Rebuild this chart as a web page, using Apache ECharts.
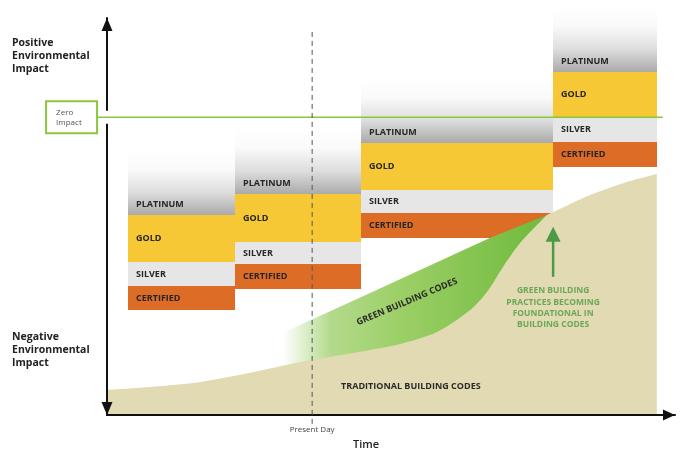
<!DOCTYPE html>
<html>
<head>
<meta charset="utf-8">
<script src="https://cdn.jsdelivr.net/npm/echarts@6/dist/echarts.min.js"></script>
<style>
  html, body { margin: 0; padding: 0; background: #fff; }
  #chart { width: 690px; height: 460px; }
</style>
</head>
<body>
<div id="chart"></div>
<script>
  // time runs 0..103 along x, environmental impact 0..100 along y (arbitrary units)
  const tiers = ['CERTIFIED', 'SILVER', 'GOLD', 'PLATINUM']
  const stepStart = [3.8, 23.2, 46.1, 80.9]
  const stepEnd = [23.2, 46.1, 80.9, 99.7]
  const certifiedLevel = [26.4, 31.7, 44.6, 62.5]
  const silverLevel = [32.5, 38.0, 50.9, 68.8]
  const goldLevel = [38.5, 43.6, 56.7, 75.1]
  const platinumLevel = [50.4, 55.7, 68.5, 86.4]
  const fadeTop = [66.8, 72.3, 84.9, 103]

  // traditional building codes (beige area)
  const traditionalTime = [0, 16.9, 37.2, 47.7, 53.7, 59.8, 65.8, 68.9, 71.8, 74.9, 78.0, 79.8, 80.9, 87.6, 93.6, 99.7]
  const traditionalImpact = [6.3, 8.3, 13.9, 16.4, 18.1, 20.9, 26.4, 31.0, 37.3, 43.3, 47.9, 50.4, 51.1, 55.4, 58.4, 60.7]
  // upper edge of the green building codes band
  const greenTime = [31.9, 47.7, 69.4, 79.8]
  const greenImpact = [20.7, 30.7, 44.6, 50.4]

  const zeroImpact = 75
  const presentDay = 37.2
  const impactTitles = ['Positive\nEnvironmental\nImpact', 'Negative\nEnvironmental\nImpact']
  const impactTitleAt = [90.3, 16.4]

  const tierColors = [
    '#dd6c27',
    '#e6e6e6',
    '#f7c836',
    new echarts.graphic.LinearGradient(0, 0, 0, 1, [
      { offset: 0, color: '#ffffff' },
      { offset: 0.3, color: '#fafafa' },
      { offset: 0.65, color: '#dedede' },
      { offset: 1, color: '#aaaaaa' }
    ])
  ]
  const labelFont = 'bold 9px "Open Sans"'

  const barData = []
  for (let s = 0; s < stepStart.length; s++) {
    const levels = [certifiedLevel[s], silverLevel[s], goldLevel[s], platinumLevel[s], fadeTop[s]]
    for (let k = 0; k < tiers.length; k++) {
      barData.push([stepStart[s], stepEnd[s], levels[k], levels[k + 1], k])
    }
  }

  function renderTier (params, api) {
    const p0 = api.coord([api.value(0), api.value(3)])
    const p1 = api.coord([api.value(1), api.value(2)])
    const k = api.value(4)
    const x0 = Math.round(p0[0]); const x1 = Math.round(p1[0])
    const y0 = Math.round(p0[1]); const y1 = Math.round(p1[1])
    return {
      type: 'group',
      children: [
        { type: 'rect', shape: { x: x0, y: y0, width: x1 - x0, height: y1 - y0 }, style: { fill: tierColors[k] } },
        {
          type: 'text',
          style: {
            text: tiers[k], x: x0 + 8, y: k === 3 ? y1 - 11 : (y0 + y1) / 2,
            verticalAlign: 'middle', fill: '#262626', font: labelFont
          }
        }
      ]
    }
  }

  function renderGreen (params, api) {
    const pts = greenTime.map((t, i) => api.coord([t, greenImpact[i]]))
    pts.push(api.coord([greenTime[greenTime.length - 1], 0]))
    pts.push(api.coord([greenTime[0], 0]))
    return {
      type: 'polygon',
      shape: { points: pts },
      style: {
        fill: new echarts.graphic.LinearGradient(0, 0, 1, 0, [
          { offset: 0, color: 'rgba(180,220,140,0)' },
          { offset: 0.18, color: '#b3da8c' },
          { offset: 0.45, color: '#9ccf66' },
          { offset: 1, color: '#6eba3c' }
        ])
      }
    }
  }

  function renderNotes (params, api) {
    const axisPt = api.coord([0, zeroImpact])
    const lineStart = api.coord([-1.8, zeroImpact])
    const lineEnd = api.coord([100.8, zeroImpact])
    const dashTop = api.coord([presentDay, 96.5])
    const dashBottom = api.coord([presentDay, -2.5])
    const arrowTip = api.coord([80.9, 47.4])
    const arrowBase = api.coord([80.9, 34.8])
    const trad = api.coord([55.1, 7.1])
    const greenText = api.coord([54.4, 28.5])
    const note = api.coord([80.9, 27.0])
    return {
      type: 'group',
      children: [
        { type: 'rect', shape: { x: axisPt[0] - 4, y: axisPt[1] - 6.5, width: 8, height: 13 }, style: { fill: '#fff' } },
        { type: 'line', shape: { x1: lineStart[0], y1: lineStart[1], x2: lineEnd[0], y2: lineEnd[1] }, style: { stroke: '#8cc63f', lineWidth: 1.5 } },
        { type: 'rect', shape: { x: lineStart[0] - 51, y: lineStart[1] - 16, width: 51, height: 32 }, style: { fill: '#fff', stroke: '#8cc63f', lineWidth: 2 } },
        { type: 'text', style: { text: 'Zero\nImpact', x: lineStart[0] - 41, y: lineStart[1] + 0.5, verticalAlign: 'middle', lineHeight: 10.5, fill: '#555', font: '8px "Open Sans"' } },
        { type: 'line', shape: { x1: dashTop[0], y1: dashTop[1], x2: dashBottom[0], y2: dashBottom[1] }, style: { stroke: '#555', lineWidth: 1, lineDash: [5, 4] } },
        { type: 'line', shape: { x1: arrowBase[0], y1: arrowBase[1], x2: arrowTip[0], y2: arrowTip[1] + 12 }, style: { stroke: '#4c9a46', lineWidth: 2.5 } },
        { type: 'polygon', shape: { points: [[arrowTip[0], arrowTip[1]], [arrowTip[0] + 7.5, arrowTip[1] + 15], [arrowTip[0] - 7.5, arrowTip[1] + 15]] }, style: { fill: '#4c9a46' } },
        { type: 'text', style: { text: 'TRADITIONAL BUILDING CODES', x: trad[0], y: trad[1], align: 'center', verticalAlign: 'middle', fill: '#2a2a2a', font: labelFont } },
        { type: 'text', x: greenText[0], y: greenText[1], rotation: 0.4, style: { text: 'GREEN BUILDING CODES', x: 0, y: 0, align: 'center', verticalAlign: 'middle', fill: '#2a2a2a', font: labelFont } },
        { type: 'text', style: { text: 'GREEN BUILDING\nPRACTICES BECOMING\nFOUNDATIONAL IN\nBUILDING CODES', x: note[0], y: note[1], align: 'center', verticalAlign: 'middle', lineHeight: 11.3, fill: '#6aa855', font: 'bold 8.5px "Open Sans"' } }
      ]
    }
  }

  const chart = echarts.init(document.getElementById('chart'))
  chart.setOption({
    backgroundColor: '#fff',
    animation: false,
    grid: { left: 107, right: 15, top: 18, bottom: 45 },
    xAxis: {
      type: 'value',
      min: 0,
      max: 103,
      z: 10,
      axisLine: {
        show: true,
        onZero: false,
        symbol: ['none', 'triangle'],
        symbolSize: [11, 12],
        symbolOffset: [0, -6],
        lineStyle: { color: '#111', width: 2 }
      },
      axisTick: { show: false },
      splitLine: { show: false },
      axisLabel: {
        customValues: [presentDay],
        formatter: () => 'Present Day',
        margin: 11,
        color: '#444',
        fontSize: 8,
        fontFamily: 'Open Sans'
      },
      name: 'Time',
      nameLocation: 'middle',
      nameGap: 21,
      nameTextStyle: { color: '#222', fontSize: 11, fontWeight: 600, fontFamily: 'Open Sans', padding: [0, 50, 0, 0] }
    },
    yAxis: {
      type: 'value',
      min: 0,
      max: 100,
      z: 10,
      axisLine: {
        show: true,
        onZero: false,
        symbol: ['triangle', 'triangle'],
        symbolSize: [11, 13],
        symbolOffset: [6.5, -6.5],
        lineStyle: { color: '#111', width: 2 }
      },
      axisTick: { show: false },
      splitLine: { show: false },
      axisLabel: {
        customValues: impactTitleAt,
        formatter: (v) => (v > 50 ? impactTitles[0] : impactTitles[1]),
        align: 'left',
        margin: 95,
        lineHeight: 13,
        color: '#222',
        fontSize: 10.5,
        fontWeight: 'bold',
        fontFamily: 'Open Sans'
      }
    },
    series: [
      { type: 'custom', name: 'tiers', z: 2, clip: false, renderItem: renderTier, data: barData },
      { type: 'custom', name: 'green', z: 3, clip: false, renderItem: renderGreen, data: [[0]] },
      {
        type: 'line',
        name: 'traditional',
        z: 4,
        smooth: 0.3,
        showSymbol: false,
        lineStyle: { width: 0 },
        itemStyle: { color: '#e1dab3' },
        areaStyle: { color: '#e1dab3', opacity: 1 },
        data: traditionalTime.map((t, i) => [t, traditionalImpact[i]])
      },
      { type: 'custom', name: 'notes', z: 12, clip: false, renderItem: renderNotes, data: [[0]] }
    ]
  })
</script>
</body>
</html>
